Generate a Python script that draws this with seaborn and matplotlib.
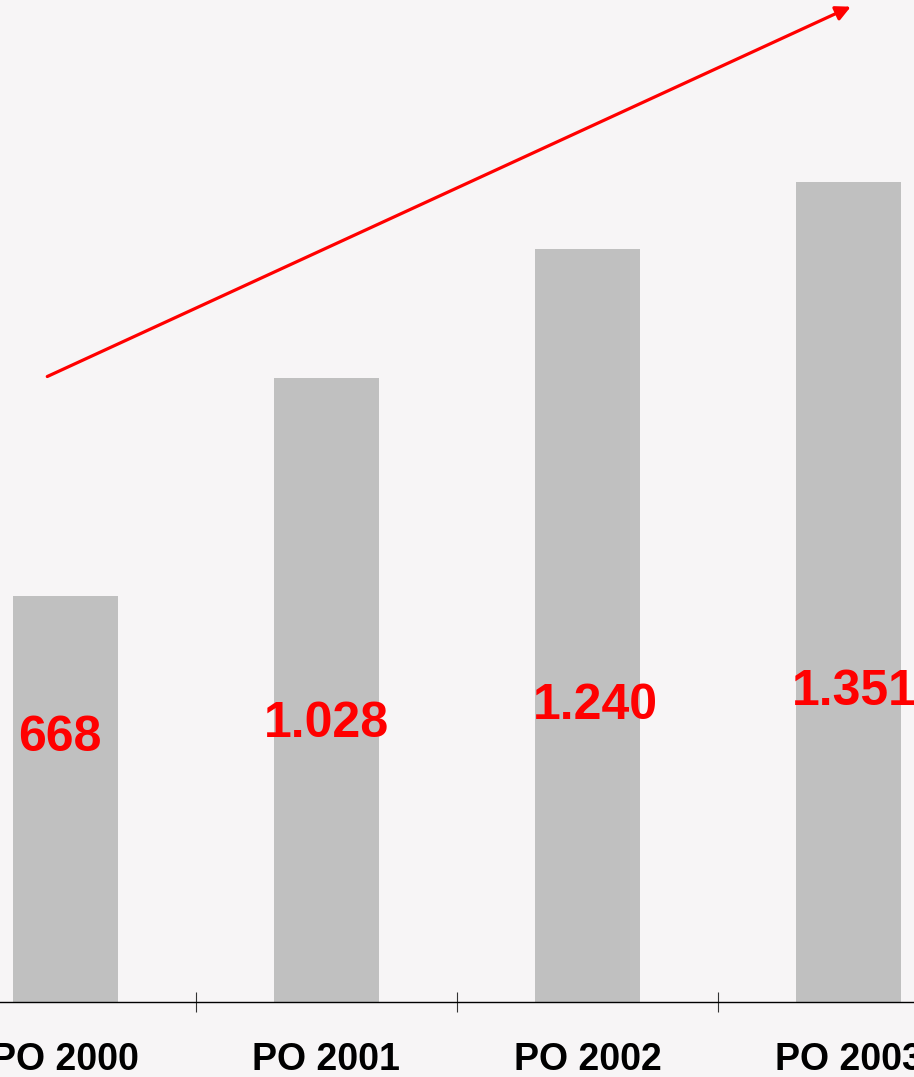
import numpy as np
import pandas as pd
import matplotlib.pyplot as plt
import seaborn as sns

categories = ["PO 2000", "PO 2001", "PO 2002", "PO 2003"]
values = [668, 1028, 1240, 1351]
value_labels = ["668", "1.028", "1.240", "1.351"]
label_heights = [435, 458, 488, 511]

df = pd.DataFrame({"cat": categories, "val": values})

sns.set_style("white")
plt.rcParams["font.family"] = ["Liberation Sans", "DejaVu Sans"]

bg = "#F7F5F6"
fig = plt.figure(figsize=(9.14, 10.77), dpi=100, facecolor=bg)
ax = fig.add_axes([0, 0.0696, 1, 0.9304])
ax.set_facecolor(bg)

sns.barplot(data=df, x="cat", y="val", color="#C0C0C0", saturation=1,
            width=0.4, edgecolor="none", ax=ax, zorder=2)

offsets = [-0.02, 0.0, 0.03, 0.02]
for i, (lab, h) in enumerate(zip(value_labels, label_heights)):
    ax.text(i + offsets[i], h, lab, color="red", fontsize=36, fontweight="bold",
            ha="center", va="center", zorder=3)

ax.annotate("", xy=(3.008, 1639), xytext=(-0.069, 1030),
            arrowprops=dict(arrowstyle="-|>", color="red", lw=2.3,
                            mutation_scale=22, shrinkA=0, shrinkB=0),
            zorder=4)

ax.set_xlim(-0.25, 3.25)
ax.set_ylim(0, 1650)
ax.set_xlabel("")
ax.set_ylabel("")
ax.set_yticks([])
for s in ["top", "right", "left"]:
    ax.spines[s].set_visible(False)
ax.spines["bottom"].set_color("black")
ax.spines["bottom"].set_linewidth(1.0)

ax.set_xticks(range(len(categories)))
ax.set_xticklabels(categories, fontsize=27, fontweight="bold", color="black")
ax.tick_params(axis="x", which="major", length=0, pad=29, bottom=True)
ax.set_xticks([0.5, 1.5, 2.5], minor=True)
ax.tick_params(axis="x", which="minor", direction="inout", length=14,
               width=0.8, color="#333333", bottom=True)

fig.savefig("out.png", dpi=100, facecolor=bg)
